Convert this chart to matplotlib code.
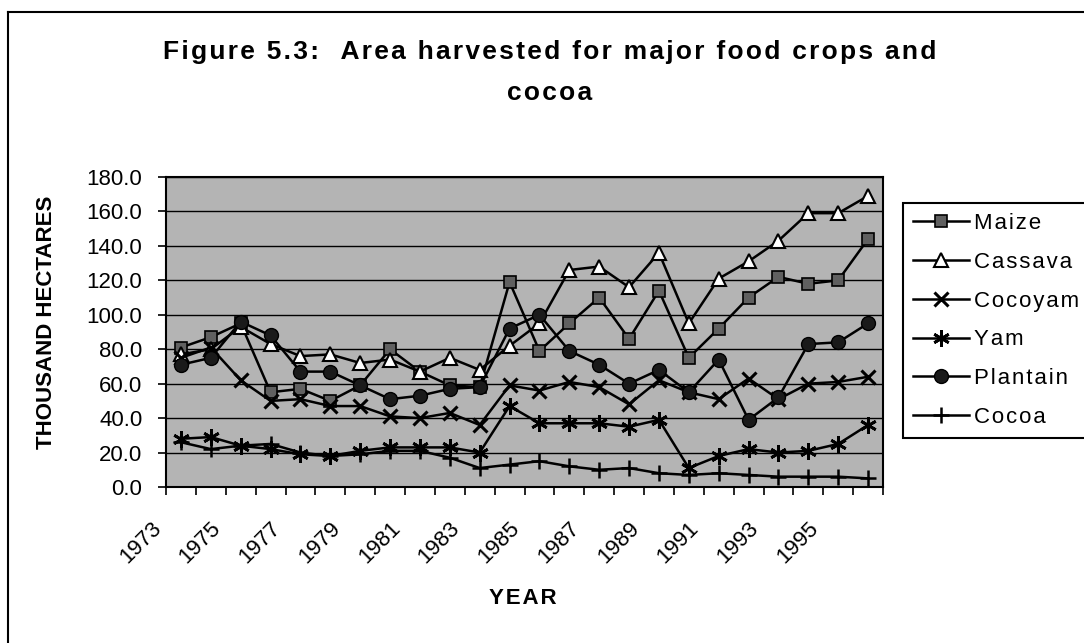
import matplotlib
matplotlib.use('Agg')
import matplotlib.pyplot as plt
from matplotlib.lines import Line2D
from matplotlib.ticker import FormatStrFormatter
import matplotlib.transforms as mtransforms

plt.rcParams['font.family'] = ['Liberation Sans', 'DejaVu Sans']

# ---------------- data (thousand hectares) ----------------
years = list(range(1973, 1997))
maize    = [81, 87, 95, 55, 57, 50, 59, 80, 67, 59, 58, 119, 79, 95, 110, 86, 114, 75, 92, 110, 122, 118, 120, 144]
cassava  = [77, 80, 93, 83, 76, 77, 72, 74, 67, 75, 68, 82, 95, 126, 128, 116, 136, 95, 121, 131, 143, 159, 159, 169]
cocoyam  = [75, 81, 62, 50, 51, 47, 47, 41, 40, 43, 36, 59, 56, 61, 58, 48, 62, 55, 51, 63, 51, 60, 61, 64]
yam      = [28, 29, 24, 22, 19, 18, 21, 23, 23, 23, 20, 47, 37, 37, 37, 35, 39, 11, 18, 22, 20, 21, 25, 36]
plantain = [71, 75, 96, 88, 67, 67, 59, 51, 53, 57, 58, 92, 100, 79, 71, 60, 68, 55, 74, 39, 52, 83, 84, 95]
cocoa    = [26, 22, 24, 25, 20, 18, 19, 21, 21, 17, 11, 13, 15, 12, 10, 11, 8, 7, 8, 7, 6, 6, 6, 5]
labels = ['Maize', 'Cassava', 'Cocoyam', 'Yam', 'Plantain', 'Cocoa']
y_ticks = [0, 20, 40, 60, 80, 100, 120, 140, 160, 180]
title1 = 'Figure 5.3:  Area harvested for major food crops and'
title2 = 'cocoa'

HS = '\u200a'  # hair space used for the wide letter spacing of the original


def spaced(s):
    return HS.join(s)


W, H = 1084, 643
fig = plt.figure(figsize=(W / 100, H / 100), dpi=100)


def fx(px):
    return px / W


def fy(py):
    return 1 - py / H


# outer chart border (left and top visible)
fig.add_artist(Line2D([fx(8), fx(8)], [fy(12), 0], transform=fig.transFigure, color='black', lw=1.5))
fig.add_artist(Line2D([fx(8), 1], [fy(12), fy(12)], transform=fig.transFigure, color='black', lw=1.5))

ax = fig.add_axes([fx(166), fy(487), fx(883) - fx(166), fy(177) - fy(487)])
ax.set_facecolor('#b4b4b4')
x = list(range(len(years)))
ax.set_xlim(-0.5, len(years) - 0.5)
ax.set_ylim(0, 180)
ax.set_yticks(y_ticks)
ax.yaxis.set_major_formatter(FormatStrFormatter('%.1f'))
ax.grid(axis='y', color='black', lw=1.0)
ax.set_axisbelow(True)
ax.set_xticks([i - 0.5 for i in range(len(years) + 1)])
ax.set_xticklabels([])
ax.tick_params(axis='x', direction='out', length=6, width=1.2)
ax.tick_params(axis='y', direction='out', length=6, width=1.2, labelsize=16, pad=11)
for s in ax.spines.values():
    s.set_linewidth(1.5)

styles = [
    dict(marker='s', mfc='#606060', mec='black', ms=9, mew=1.2),
    dict(marker='^', mfc='white', mec='black', ms=10, mew=1.5),
    dict(marker='x', mec='black', ms=10, mew=2.2),
    dict(marker=(6, 2, 0), mec='black', ms=12, mew=2.0),
    dict(marker='o', mfc='#1a1a1a', mec='black', ms=10),
    dict(marker='+', mec='black', ms=12, mew=1.8),
]
all_series = [maize, cassava, cocoyam, yam, plantain, cocoa]
handles = []
for vals, name, st in zip(all_series, labels, styles):
    h, = ax.plot(x, vals, color='black', lw=1.8, label=spaced(name), zorder=3, **st)
    handles.append(h)

trans = mtransforms.offset_copy(ax.transData, fig=fig, x=-8, y=-38, units='dots')
for i, yr in enumerate(years):
    if i % 2 == 0:
        ax.text(i - 0.5, 0, str(yr), transform=trans, rotation=45, ha='right', va='center',
                rotation_mode='anchor', fontsize=16)

fig.text(fx(550), fy(52), spaced(title1), ha='center', va='center', fontsize=19, fontweight='bold')
fig.text(fx(550), fy(93), spaced(title2), ha='center', va='center', fontsize=19, fontweight='bold')
fig.text(fx(47), fy(322), 'THOUSAND HECTARES', rotation=90, ha='center', va='center',
         fontsize=16, fontweight='bold')
fig.text(fx(523), fy(598), spaced('YEAR'), ha='center', va='center', fontsize=16, fontweight='bold')

leg = fig.legend(handles=handles, loc='upper left', bbox_to_anchor=(fx(903), fy(203)),
                 frameon=True, fancybox=False, edgecolor='black', fontsize=16,
                 handlelength=2.5, handletextpad=0.25, labelspacing=0.8,
                 borderpad=0.45, borderaxespad=0, framealpha=1)
leg.get_frame().set_linewidth(1.5)

fig.savefig('out.png', dpi=100)
